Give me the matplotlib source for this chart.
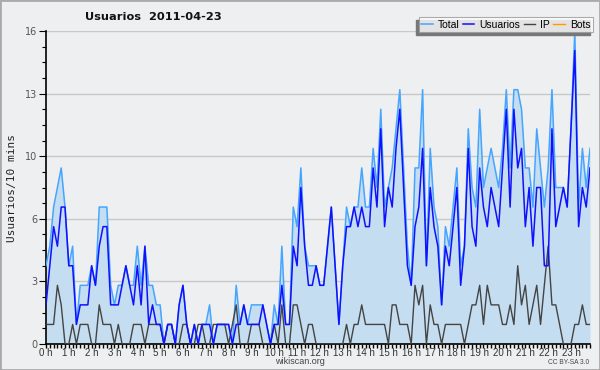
import numpy as np
import matplotlib
matplotlib.use("Agg")
from matplotlib import pyplot as plt
from matplotlib.patches import Rectangle

# 10-min counts for 2011-04-23, 144 slots
usuarios = [2, 4, 6, 5, 7, 7, 4, 4, 1, 2, 2, 2,
            4, 3, 5, 6, 6, 2, 2, 2, 3, 4, 3, 2,
            4, 2, 5, 1, 2, 1, 1, 0, 1, 1, 0, 2,
            3, 1, 0, 1, 0, 1, 1, 1, 0, 1, 1, 1,
            1, 0, 1, 1, 2, 1, 1, 1, 1, 2, 1, 0,
            1, 1, 3, 1, 1, 5, 4, 8, 5, 3, 3, 4,
            3, 3, 5, 7, 4, 1, 4, 6, 6, 7, 6, 7,
            6, 6, 9, 7, 11, 6, 8, 7, 10, 12, 8, 4,
            3, 6, 7, 10, 4, 8, 6, 5, 2, 5, 4, 6,
            8, 3, 5, 10, 6, 5, 9, 7, 6, 8, 7, 6,
            9, 12, 7, 12, 9, 10, 6, 8, 5, 8, 8, 4,
            4, 11, 6, 7, 8, 7, 11, 15, 6, 8, 7, 9]

ip = [1, 1, 1, 3, 2, 0, 0, 1, 0, 1, 1, 1,
      0, 0, 2, 1, 1, 1, 0, 1, 0, 0, 0, 1,
      1, 1, 0, 1, 1, 1, 1, 0, 1, 1, 0, 0,
      1, 1, 0, 0, 1, 1, 0, 0, 1, 1, 1, 1,
      0, 1, 2, 0, 0, 0, 1, 1, 1, 0, 0, 0,
      1, 0, 2, 0, 0, 2, 2, 1, 0, 1, 1, 0,
      0, 0, 0, 0, 0, 0, 0, 1, 0, 1, 1, 2,
      1, 1, 1, 1, 1, 1, 0, 2, 2, 1, 1, 1,
      0, 3, 2, 3, 0, 2, 1, 1, 0, 1, 1, 1,
      1, 1, 0, 1, 2, 2, 3, 1, 3, 2, 2, 2,
      1, 1, 2, 1, 4, 2, 3, 1, 2, 3, 1, 3,
      5, 2, 2, 1, 0, 0, 0, 1, 1, 2, 1, 1]

total = [4, 5, 7, 8, 9, 7, 4, 5, 1, 3, 3, 3,
         4, 3, 7, 7, 7, 3, 2, 3, 3, 4, 3, 3,
         5, 3, 5, 3, 3, 2, 2, 0, 1, 1, 0, 2,
         3, 1, 0, 1, 0, 1, 1, 2, 0, 1, 1, 1,
         1, 0, 3, 1, 2, 1, 2, 2, 2, 2, 1, 0,
         2, 1, 5, 1, 1, 7, 6, 9, 5, 4, 4, 4,
         3, 3, 5, 7, 4, 1, 4, 7, 6, 7, 7, 9,
         7, 7, 10, 8, 12, 7, 8, 9, 11, 13, 9, 5,
         3, 9, 9, 13, 4, 10, 7, 6, 2, 6, 5, 7,
         9, 4, 5, 11, 8, 7, 12, 8, 9, 10, 9, 8,
         10, 13, 9, 13, 13, 12, 9, 9, 7, 11, 9, 7,
         9, 13, 8, 8, 8, 7, 11, 16, 7, 10, 8, 10]

bots = [0] * 144

hour_labels = ["%d h" % h for h in range(24)]
ytick_vals = [0, 3.2, 6.4, 9.6, 12.8, 16]
ytick_labels = ["0", "3", "6", "10", "13", "16"]

narrow = "Liberation Sans"

x = np.arange(len(total)) / 6.0

bg = "#eeeff0"
fig = plt.figure(figsize=(6, 3.7), dpi=100, facecolor=bg)
ax = fig.add_axes([46/600, 26/370, 544/600, 313/370])
ax.set_facecolor(bg)

ax.fill_between(x, 0, total, color="#c5ddf0", lw=0, zorder=1)
ax.plot(x, bots, color="#ff9900", lw=1, zorder=1.1, label="Bots")
ax.plot(x, total, color="#45a5ff", lw=1.1, zorder=3, label="Total")
ax.plot(x, ip, color="#444444", lw=1.0, zorder=3.5, label="IP")
ax.plot(x, usuarios, color="#1010ff", lw=1.1, zorder=4, label="Usuarios")

ax.set_xlim(0, x[-1])
ax.set_ylim(0, 16)

ax.set_yticks(ytick_vals)
ax.set_yticklabels(ytick_labels)
ax.set_yticks(np.arange(0, 16.01, 0.8), minor=True)
ax.set_xticks(range(24))
ax.set_xticklabels(hour_labels, family=narrow, fontsize=7, color="#333333")
ax.set_xticks(np.arange(0, 24, 1/6.0), minor=True)

ax.tick_params(axis="y", which="major", length=5, width=0.8, labelsize=7, labelcolor="#555555", pad=1)
ax.tick_params(axis="y", which="minor", length=3, width=0.8)
ax.tick_params(axis="x", which="major", length=3, width=1, pad=0)
ax.tick_params(axis="x", which="minor", length=3, width=1)
ax.tick_params(axis="both", which="both", color="black")

ax.grid(axis="y", which="major", color="#c8c8c8", lw=1, zorder=0)
ax.set_axisbelow(True)
for s in ["top", "right"]:
    ax.spines[s].set_visible(False)
ax.spines["left"].set_linewidth(1.2)
ax.spines["bottom"].set_linewidth(1.2)

ax.set_ylabel("Usuarios/10 mins", family="DejaVu Sans Mono", fontsize=8, color="#222222", labelpad=6)

fig.text(85/600, 1 - 17/370, "Usuarios  2011-04-23", fontsize=8.2, fontweight="bold",
         va="center", ha="left", color="#111111")

# legend with a dark shadow like the original
h, l = ax.get_legend_handles_labels()
order = [l.index(n) for n in ["Total", "Usuarios", "IP", "Bots"]]
leg = fig.legend([h[i] for i in order], [l[i] for i in order], ncol=4,
                 loc="upper right", bbox_to_anchor=(593/600, 1 - 17/370),
                 prop={"family": narrow, "size": 7.5}, frameon=True, fancybox=False,
                 handlelength=1.1, handletextpad=0.5, columnspacing=0.3,
                 borderpad=0.25, borderaxespad=0)
leg.get_frame().set_facecolor("white")
leg.get_frame().set_edgecolor("#999999")
leg.get_frame().set_linewidth(0.8)
fig.canvas.draw()
bb = leg.get_window_extent().transformed(fig.transFigure.inverted())
fig.patches.append(Rectangle((bb.x0 - 3/600, bb.y0 - 3/370), bb.width, bb.height,
                             transform=fig.transFigure, color="#777777", zorder=0))

fig.text(300/600, 1 - 362/370, "wikiscan.org", fontsize=6.5, family=narrow, color="#444444", ha="center", va="center")
fig.text(589/600, 1 - 362/370, "CC BY-SA 3.0", fontsize=4.8, family=narrow, color="#444444", ha="right", va="center")

fig.patches.append(Rectangle((0, 0), 1, 1, transform=fig.transFigure, fill=False,
                             edgecolor="#aaaaaa", lw=2))

plt.savefig("out.png", dpi=100, facecolor=bg)
